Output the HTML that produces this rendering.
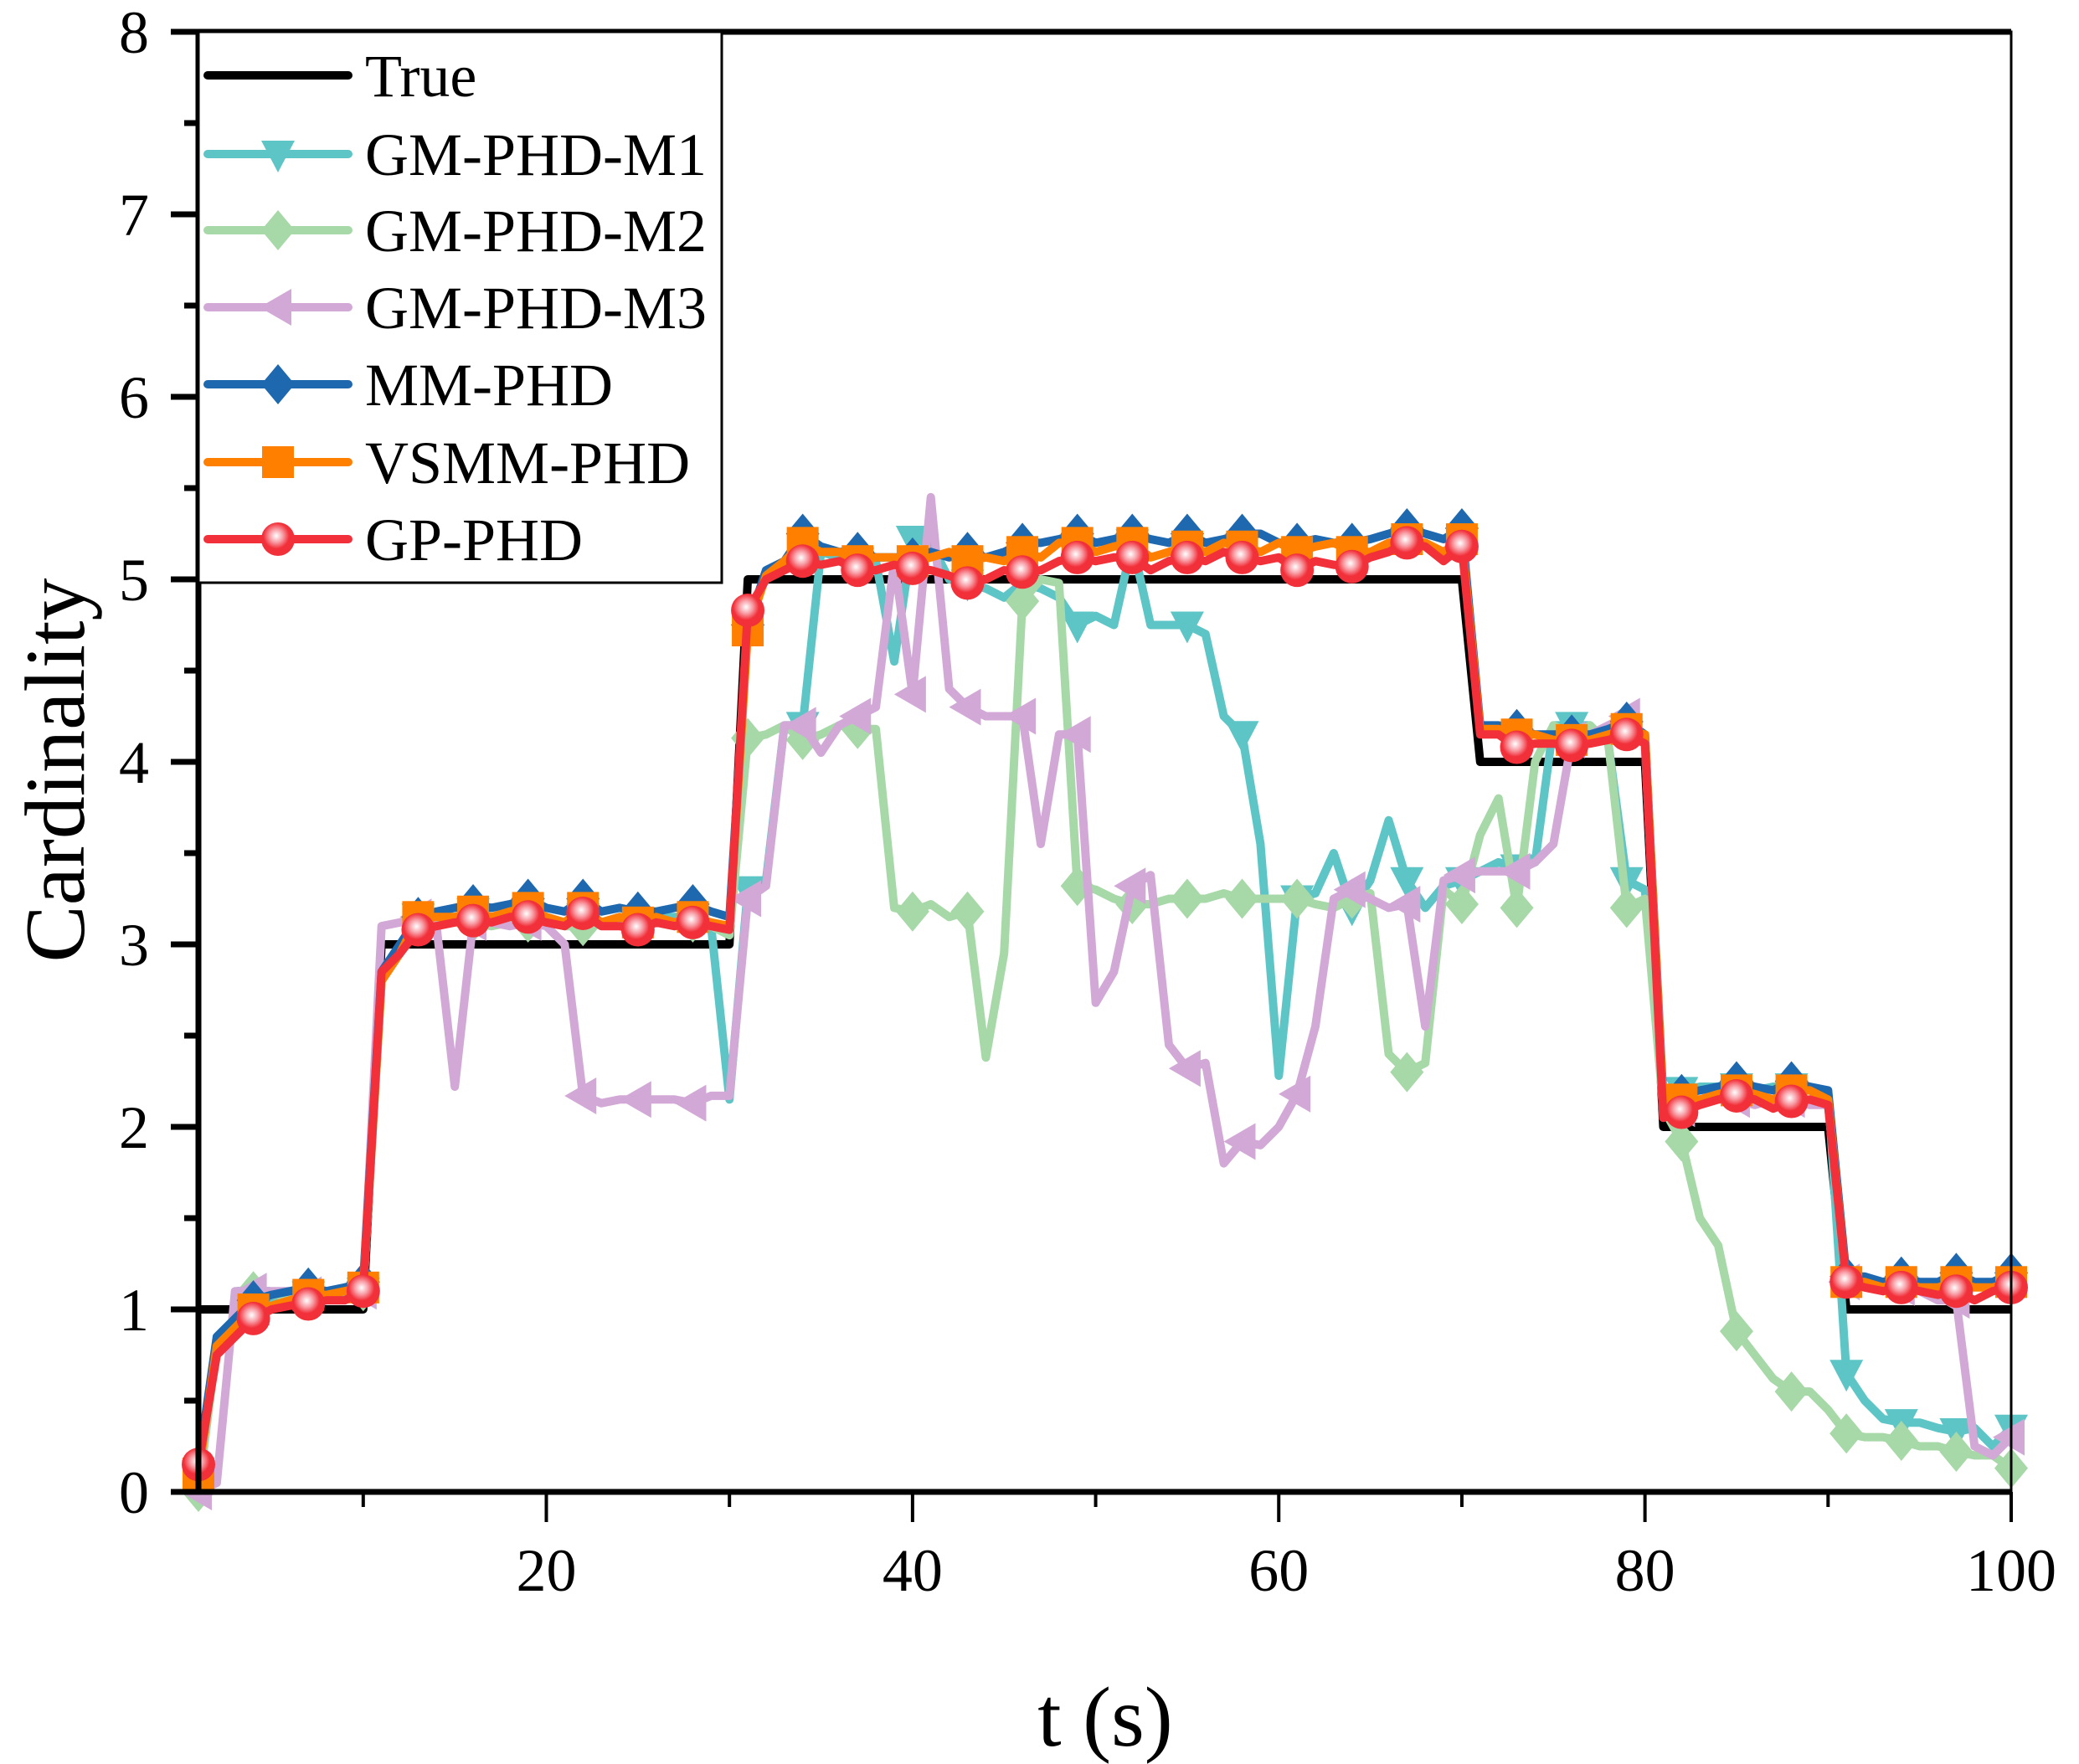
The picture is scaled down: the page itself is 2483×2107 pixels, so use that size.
<!DOCTYPE html>
<html><head><meta charset="utf-8">
<style>
html,body{margin:0;padding:0;background:#fff;}
svg{display:block;font-family:"Liberation Serif","Times New Roman",serif;}
</style></head>
<body>
<svg id="chart" width="2483" height="2107" viewBox="0 0 2483 2107" xmlns="http://www.w3.org/2000/svg">
<defs>
<radialGradient id="gpgrad" cx="0.45" cy="0.4" r="0.55">
<stop offset="0" stop-color="#ffffff"/><stop offset="0.35" stop-color="#f8a0a8"/><stop offset="0.7" stop-color="#f2303a"/><stop offset="1" stop-color="#f2303a"/>
</radialGradient>
</defs>
<g id="plot"></g>
<g id="axes"></g>
<g id="legend"></g>
</svg>
<script>
const times = Array.from({length:100},(_,i)=>i+1);
const xTicks = [10,20,30,40,50,60,70,80,90,100];
const xTickLabels = ["","20","","40","","60","","80","","100"];
const yTicks = [0,0.5,1,1.5,2,2.5,3,3.5,4,4.5,5,5.5,6,6.5,7,7.5,8];
const yTickLabels = ["0","","1","","2","","3","","4","","5","","6","","7","","8"];
const seriesNames = ["True","GM-PHD-M1","GM-PHD-M2","GM-PHD-M3","MM-PHD","VSMM-PHD","GP-PHD"];

const trueVals = [1,1,1,1,1,1,1,1,1,1, 3,3,3,3,3,3,3,3,3,3, 3,3,3,3,3,3,3,3,3,3,
 5,5,5,5,5,5,5,5,5,5, 5,5,5,5,5,5,5,5,5,5, 5,5,5,5,5,5,5,5,5,5, 5,5,5,5,5,5,5,5,5,5,
 4,4,4,4,4,4,4,4,4,4, 2,2,2,2,2,2,2,2,2,2, 1,1,1,1,1,1,1,1,1,1];
const m1Vals = [0.1,0.8,0.95,1.05,1.05,1.08,1.08,1.1,1.08,1.1, 2.8,2.95,3.15,3.15,3.15,3.18,3.15,3.15,3.18,3.15, 3.12,3.15,3.12,3.15,3.12,3.15,3.15,3.15,3.1,2.15,
 3.3,3.35,4.2,4.2,5.15,5.12,5.1,5.1,4.55,5.22, 5.2,5.0,4.98,4.95,4.9,4.98,4.95,4.9,4.75,4.8, 4.75,5.2,4.75,4.75,4.75,4.7,4.25,4.15,3.55,2.28,
 3.25,3.28,3.5,3.2,3.35,3.68,3.35,3.2,3.32,3.35, 3.4,3.45,3.42,3.45,4.2,4.2,4.2,4.1,3.35,3.3, 2.2,2.2,2.22,2.22,2.22,2.2,2.22,2.22,2.2,2.2, 0.65,0.5,0.4,0.38,0.38,0.35,0.33,0.35,0.25,0.35];
const m2Vals = [0.0,0.8,0.95,1.1,1.08,1.08,1.1,1.08,1.1,1.1, 2.8,2.95,3.1,3.12,3.12,3.12,3.1,3.12,3.12,3.12, 3.1,3.1,3.12,3.12,3.1,3.12,3.1,3.12,3.1,3.05,
 4.13,4.15,4.2,4.12,4.15,4.2,4.18,4.18,3.2,3.18, 3.22,3.15,3.18,2.38,2.95,4.88,5.0,4.98,3.32,3.3, 3.25,3.22,3.22,3.25,3.25,3.25,3.28,3.25,3.25,3.25,
 3.25,3.22,3.2,3.25,3.28,2.4,2.3,2.35,3.3,3.22, 3.6,3.8,3.2,4.0,4.2,4.15,4.2,4.1,3.2,3.25, 2.1,1.92,1.5,1.35,0.88,0.75,0.62,0.55,0.55,0.45, 0.32,0.3,0.3,0.28,0.25,0.25,0.22,0.2,0.2,0.13];
const m3Vals = [0.0,0.05,1.1,1.1,1.1,1.1,1.08,1.1,1.1,1.1, 3.1,3.12,3.15,3.1,2.22,3.12,3.12,3.1,3.12,3.1, 3.0,2.17,2.13,2.15,2.15,2.15,2.15,2.13,2.17,2.17,
 3.25,3.32,4.2,4.2,4.05,4.2,4.25,4.3,5.1,4.37, 5.45,4.4,4.3,4.25,4.25,4.25,3.55,4.15,4.15,2.68, 2.85,3.32,3.38,2.45,2.32,2.35,1.8,1.92,1.9,2.0,
 2.18,2.55,3.25,3.3,3.25,3.2,3.22,2.55,3.35,3.38, 3.4,3.4,3.4,3.45,3.55,4.12,4.15,4.2,4.25,4.1, 2.05,2.1,2.15,2.15,2.15,2.12,2.15,2.15,2.12,2.12, 1.15,1.15,1.1,1.12,1.1,1.05,1.05,0.25,0.2,0.3];
const mmVals = [0.15,0.85,0.95,1.05,1.08,1.1,1.12,1.1,1.12,1.15, 2.85,3.0,3.15,3.18,3.2,3.22,3.2,3.22,3.25,3.2, 3.18,3.25,3.18,3.2,3.18,3.18,3.2,3.22,3.18,3.15,
 4.75,5.05,5.1,5.25,5.18,5.15,5.15,5.12,5.12,5.12, 5.15,5.12,5.15,5.12,5.15,5.2,5.2,5.22,5.25,5.2, 5.22,5.25,5.22,5.2,5.25,5.2,5.22,5.25,5.25,5.2,
 5.2,5.22,5.2,5.2,5.22,5.25,5.28,5.25,5.22,5.28, 4.2,4.2,4.18,4.15,4.15,4.15,4.15,4.18,4.22,4.15, 2.15,2.18,2.2,2.22,2.25,2.22,2.2,2.25,2.22,2.2, 1.18,1.18,1.15,1.18,1.15,1.15,1.2,1.15,1.15,1.2];
const vsVals = [0.1,0.8,0.9,1.0,1.02,1.05,1.08,1.08,1.1,1.12, 2.8,2.95,3.15,3.15,3.15,3.18,3.15,3.18,3.2,3.15, 3.12,3.2,3.12,3.15,3.12,3.15,3.12,3.15,3.12,3.1,
 4.72,5.02,5.1,5.2,5.15,5.15,5.1,5.12,5.12,5.1, 5.12,5.15,5.1,5.12,5.1,5.15,5.12,5.2,5.2,5.15, 5.18,5.2,5.12,5.15,5.18,5.15,5.2,5.18,5.15,5.2,
 5.15,5.18,5.2,5.15,5.15,5.2,5.22,5.2,5.15,5.22, 4.18,4.18,4.15,4.15,4.12,4.12,4.12,4.15,4.18,4.15, 2.12,2.15,2.15,2.18,2.2,2.18,2.15,2.2,2.2,2.15, 1.15,1.15,1.12,1.15,1.12,1.12,1.15,1.12,1.12,1.15];
const gpVals = [0.15,0.75,0.85,0.95,1.0,1.02,1.03,1.05,1.05,1.1, 2.85,2.95,3.08,3.1,3.12,3.13,3.12,3.15,3.15,3.12, 3.1,3.17,3.1,3.1,3.08,3.12,3.1,3.12,3.1,3.08,
 4.83,5.0,5.05,5.1,5.08,5.1,5.05,5.05,5.08,5.06, 5.05,5.02,4.98,5.0,5.05,5.04,5.05,5.1,5.12,5.1, 5.12,5.12,5.05,5.1,5.12,5.1,5.15,5.12,5.1,5.12,
 5.05,5.1,5.08,5.07,5.12,5.15,5.2,5.18,5.1,5.18, 4.15,4.15,4.08,4.1,4.1,4.09,4.1,4.12,4.15,4.1, 2.05,2.08,2.12,2.15,2.17,2.15,2.1,2.14,2.15,2.12, 1.15,1.12,1.1,1.12,1.1,1.08,1.1,1.05,1.1,1.12];

const X0=237, X1=2402, Y0=1782, Y1=38;
const xMin=1, xMax=100, yMin=0, yMax=8;
function xs(t){return X0+(t-xMin)/(xMax-xMin)*(X1-X0);}
function ys(v){return Y0-(v-yMin)/(yMax-yMin)*(Y0-Y1);}
const NS="http://www.w3.org/2000/svg";
function mk(tag,attrs,parent){const e=document.createElementNS(NS,tag);for(const k in attrs)e.setAttribute(k,attrs[k]);parent.appendChild(e);return e;}

function marker(type,cx,cy,color,parent){
  const s=20; let e;
  if(type==="down") e=mk("polygon",{points:`${cx-s},${cy-s*0.8} ${cx+s},${cy-s*0.8} ${cx},${cy+s*1.1}`,fill:color},parent);
  else if(type==="diamond") e=mk("polygon",{points:`${cx},${cy-s*1.2} ${cx+s},${cy} ${cx},${cy+s*1.2} ${cx-s},${cy}`,fill:color},parent);
  else if(type==="left") e=mk("polygon",{points:`${cx-s*1.1},${cy} ${cx+s*0.8},${cy-s*1.1} ${cx+s*0.8},${cy+s*1.1}`,fill:color},parent);
  else if(type==="square") e=mk("rect",{x:cx-s*0.95,y:cy-s*0.95,width:s*1.9,height:s*1.9,fill:color},parent);
  else if(type==="circle") e=mk("circle",{cx:cx,cy:cy,r:s,fill:"url(#gpgrad)"},parent);
  return e;
}

const plot=document.getElementById("plot");
const seriesVals=[trueVals,m1Vals,m2Vals,m3Vals,mmVals,vsVals,gpVals];
const colors=["#000000","#5ec5c7","#a7d8a7","#d2a8d7","#1e68b0","#ff8000","#f2303a"];
const mtypes=[null,"down","diamond","left","diamond","square","circle"];
const slugs=["true","gm-phd-m1","gm-phd-m2","gm-phd-m3","mm-phd","vsmm-phd","gp-phd"];
seriesVals.forEach((vals,si)=>{
  const g=mk("g",{},plot);
  
  
  const pts=vals.map((v,i)=>xs(times[i]).toFixed(1)+","+ys(v).toFixed(1)).join(" ");
  const line=mk("polyline",{points:pts,fill:"none",stroke:colors[si],"stroke-width":10,"stroke-linejoin":"round"},g);
  
  
  if(mtypes[si]){
    vals.forEach((v,i)=>{
      if(i%3!==0) return;
      const m=marker(mtypes[si],xs(times[i]),ys(v),colors[si],g);
      
      
    });
  }
});

const axes=document.getElementById("axes");
const frame=mk("rect",{x:X0,y:Y1,width:X1-X0,height:Y0-Y1,fill:"none",stroke:"#000","stroke-width":3},axes);


const topLine=mk("line",{x1:204,y1:Y1,x2:X1,y2:Y1,stroke:"#000","stroke-width":7},axes);


const yAxis=mk("line",{x1:X0,y1:Y1,x2:X0,y2:Y0,stroke:"#000","stroke-width":7},axes);


const xAxis=mk("line",{x1:204,y1:Y0,x2:X1,y2:Y0,stroke:"#000","stroke-width":7},axes);



yTicks.forEach((v,i)=>{
  const major=yTickLabels[i]!=="";
  const t=mk("line",{x1:X0-(major?33:17),y1:ys(v),x2:X0,y2:ys(v),stroke:"#000","stroke-width":7},axes);
  
  
  if(major){
    const tx=mk("text",{x:178,y:ys(v)+25,"font-size":72,"text-anchor":"end",fill:"#000"},axes);
    tx.textContent=yTickLabels[i];
    
    
  }
});
xTicks.forEach((v,i)=>{
  const major=xTickLabels[i]!=="";
  const t=mk("line",{x1:xs(v),y1:Y0,x2:xs(v),y2:Y0+(major?36:18),stroke:"#000","stroke-width":4},axes);
  
  
  if(major){
    const tx=mk("text",{x:xs(v),y:1900,"font-size":72,"text-anchor":"middle",fill:"#000"},axes);
    tx.textContent=xTickLabels[i];
    
    
  }
});
const xt=mk("text",{x:1320,y:2085,"font-size":102,"text-anchor":"middle",fill:"#000"},axes);
xt.textContent="t (s)";


const yt=mk("text",{x:0,y:0,"font-size":102,"text-anchor":"middle",fill:"#000",transform:"translate(100,920) rotate(-90)"},axes);
yt.textContent="Cardinality";



const legend=document.getElementById("legend");
const lbox=mk("rect",{x:X0,y:Y1,width:625,height:658,fill:"#fff",stroke:"#000","stroke-width":3},legend);


const rowY=[90,184,275,367,459,552,644];
seriesNames.forEach((name,i)=>{
  const g=mk("g",{},legend);
  
  
  mk("line",{x1:248,y1:rowY[i],x2:416,y2:rowY[i],stroke:colors[i],"stroke-width":10,"stroke-linecap":"round"},g);
  if(mtypes[i]) marker(mtypes[i],332,rowY[i],colors[i],g);
  const tx=mk("text",{x:436,y:rowY[i]+25,"font-size":72,fill:"#000"},g);
  tx.textContent=name;
});
</script>
</body></html>
